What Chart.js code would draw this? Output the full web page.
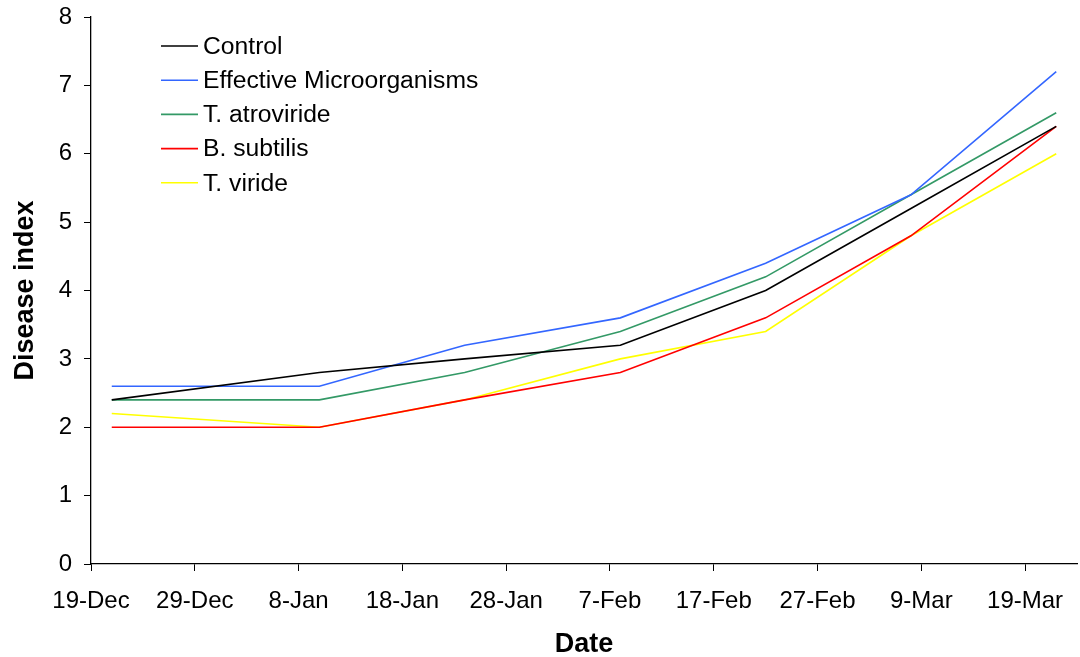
<!DOCTYPE html>
<html>
<head>
<meta charset="utf-8">
<script src="https://cdn.jsdelivr.net/npm/chart.js@4/dist/chart.umd.min.js"></script>
<style>
html,body{margin:0;padding:0;background:#fff;}
#wrap{position:relative;width:1080px;height:657px;}
</style>
</head>
<body>
<div id="wrap"><canvas id="c" width="1080" height="657"></canvas></div>
<script>
// ---- data ----
const observationDates = ['21-Dec','10-Jan','24-Jan','8-Feb','22-Feb','8-Mar','22-Mar'];
const seriesNames = ['Control','Effective Microorganisms','T. atroviride','B. subtilis','T. viride'];
const control      = [2.4, 2.8, 3.0, 3.2, 4.0, 5.2, 6.4];
const effectiveMO  = [2.6, 2.6, 3.2, 3.6, 4.4, 5.4, 7.2];
const atroviride   = [2.4, 2.4, 2.8, 3.4, 4.2, 5.4, 6.6];
const subtilis     = [2.0, 2.0, 2.4, 2.8, 3.6, 4.8, 6.4];
const viride       = [2.2, 2.0, 2.4, 3.0, 3.4, 4.8, 6.0];
const xTickLabels  = ['19-Dec','29-Dec','8-Jan','18-Jan','28-Jan','7-Feb','17-Feb','27-Feb','9-Mar','19-Mar'];
const yTickLabels  = ['0','1','2','3','4','5','6','7','8'];
const seriesColors = ['#000000','#3366FF','#339966','#FF0000','#FFFF00'];

// ---- helpers (date -> day offset from 19-Dec, non-leap season) ----
const MONTHS = {Dec:[2006,11],Jan:[2007,0],Feb:[2007,1],Mar:[2007,2]};
const ORIGIN = Date.UTC(2006,11,19);
function dayOffset(s){
  const [d,m] = s.split('-');
  const [y,mi] = MONTHS[m];
  return (Date.UTC(y,mi,parseInt(d,10)) - ORIGIN)/86400000;
}
const xDays = observationDates.map(dayOffset);
const tickDays = xTickLabels.map(dayOffset);
const allSeries = [control, effectiveMO, atroviride, subtilis, viride];

const FONT = '"Liberation Sans", Arial, sans-serif';

const datasets = allSeries.map((vals,i)=>({
  label: seriesNames[i],
  data: vals.map((v,j)=>({x:xDays[j], y:v})),
  borderColor: seriesColors[i],
  backgroundColor: seriesColors[i],
  borderWidth: 1.6,
  pointRadius: 0,
  tension: 0,
  fill: false
}));

const legendPlugin = {
  id:'insideLegend',
  afterDraw(chart){
    const ctx = chart.ctx;
    ctx.save();
    ctx.font = '24.7px ' + FONT;
    ctx.textBaseline = 'middle';
    ctx.textAlign = 'left';
    chart.data.datasets.forEach((ds,i)=>{
      const y = 46 + i*34.2;
      ctx.strokeStyle = ds.borderColor;
      ctx.lineWidth = 1.6;
      ctx.beginPath(); ctx.moveTo(161,y); ctx.lineTo(198,y); ctx.stroke();
      ctx.fillStyle = '#000';
      ctx.fillText(ds.label, 203, y+1);
    });
    ctx.restore();
  }
};

new Chart(document.getElementById('c'), {
  type:'line',
  data:{datasets},
  plugins:[legendPlugin],
  options:{
    responsive:false,
    animation:false,
    layout:{padding:{top:17,right:3,left:0,bottom:0}},
    plugins:{legend:{display:false},tooltip:{enabled:false}},
    scales:{
      x:{
        type:'linear',
        min:0, max:95,
        afterBuildTicks(scale){ scale.ticks = tickDays.map(v=>({value:v})); },
        afterFit(scale){ scale.height = 93; scale.paddingLeft = 0; scale.paddingRight = 0; },
        ticks:{
          autoSkip:false, maxRotation:0, minRotation:0,
          color:'#000', padding:16,
          font:{family:FONT,size:24},
          callback(v){ const k = tickDays.indexOf(v); return k>=0 ? xTickLabels[k] : ''; }
        },
        grid:{drawOnChartArea:false, drawTicks:true, tickLength:7, color:'#000', lineWidth:1},
        border:{display:true,color:'#000',width:1.3},
        title:{display:true,text:'Date',color:'#000',font:{family:FONT,size:27,weight:'bold',lineHeight:0.9},padding:{top:0,bottom:0}}
      },
      y:{
        min:0, max:8,
        afterFit(scale){ scale.width = 91; scale.paddingTop = 0; scale.paddingBottom = 0; },
        ticks:{
          stepSize:1, color:'#000', padding:12,
          font:{family:FONT,size:24},
          callback(v){ return yTickLabels[v] !== undefined ? yTickLabels[v] : ''; }
        },
        grid:{drawOnChartArea:false, drawTicks:true, tickLength:7, color:'#000', lineWidth:1},
        border:{display:true,color:'#000',width:1.3},
        title:{display:true,text:'Disease index',color:'#000',font:{family:FONT,size:27,weight:'bold'},padding:{top:9,bottom:0}}
      }
    }
  }
});
</script>
</body>
</html>
